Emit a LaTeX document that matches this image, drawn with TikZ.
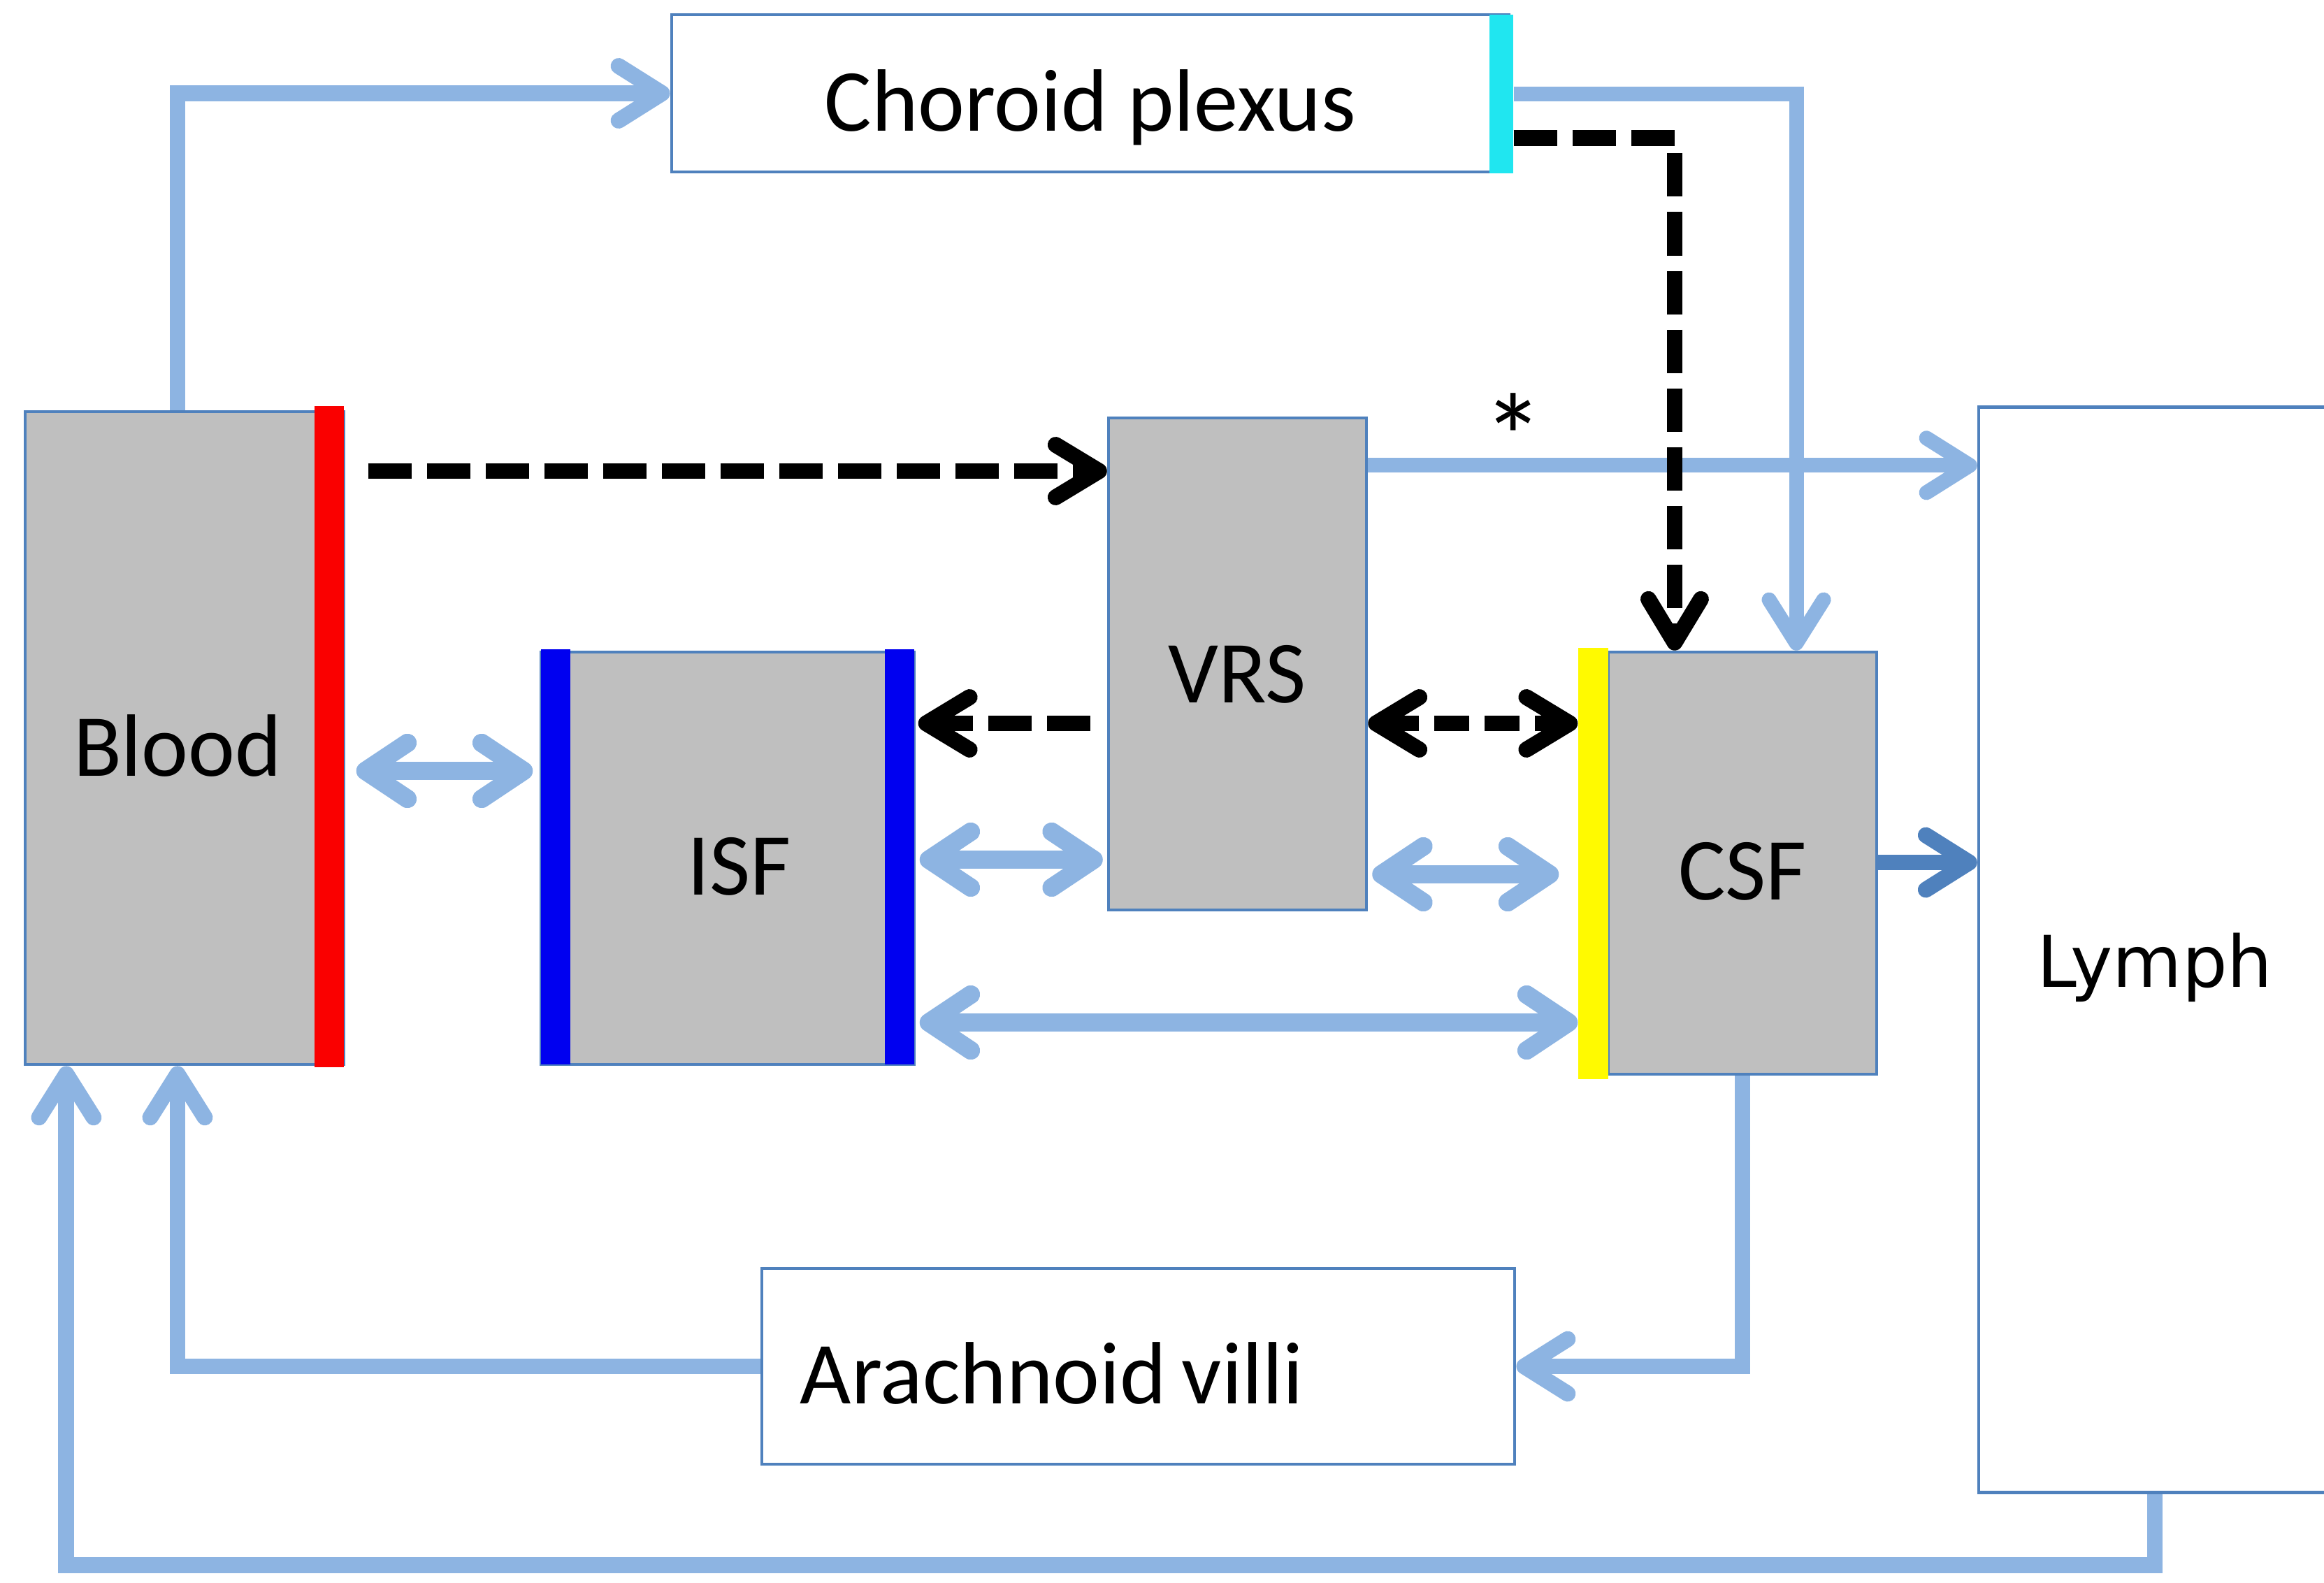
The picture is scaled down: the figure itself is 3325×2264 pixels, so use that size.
\documentclass[tikz,border=0pt]{standalone}
\usepackage{fontspec}
\setmainfont{Carlito}
\newfontfamily\lymphfont{DejaVu Sans}
\usetikzlibrary{arrows.meta}
\definecolor{lblue}{RGB}{141,180,226}
\definecolor{dblue}{RGB}{79,129,189}
\definecolor{bordc}{RGB}{79,129,189}
\definecolor{boxgray}{RGB}{191,191,191}
\definecolor{cpcyan}{RGB}{32,230,240}
\definecolor{isfblue}{RGB}{0,0,240}
\definecolor{barred}{RGB}{250,0,0}
\definecolor{baryellow}{RGB}{255,250,0}
\newcommand{\shiftdowntext}[2][0.12cm]{\raisebox{-#1}[\height][\depth]{#2}}
\begin{document}
\begin{tikzpicture}[x=0.01cm,y=-0.01cm,
  box/.style={draw=bordc,line width=1.2pt,inner sep=0pt,font=\fontsize{36}{40}\selectfont},
  graybox/.style={box,fill=boxgray},
  whitebox/.style={box,fill=white},
  bar/.style={inner sep=0pt,minimum width=0.42cm},
  flow/.style={draw=lblue,line width=6.5pt,-{Straight Barb[length=0.62cm,width=0.78cm,round]}},
  flowthin/.style={draw=lblue,line width=6pt,-{Straight Barb[length=0.62cm,width=0.78cm,round]}},
  flowdark/.style={draw=dblue,line width=6.5pt,-{Straight Barb[length=0.62cm,width=0.78cm,round]}},
  flowtwo/.style={draw=lblue,line width=7.5pt,{Straight Barb[length=0.6cm,width=0.8cm,round]}-{Straight Barb[length=0.6cm,width=0.8cm,round]}},
  dflow/.style={draw=black,line width=6.3pt,dash pattern=on 0.62cm off 0.22cm,-{Straight Barb[length=0.62cm,width=0.75cm,round,line width=6.5pt]}},
  dflowtwo/.style={draw=black,line width=6.3pt,dash pattern=on 0.5cm off 0.22cm,{Straight Barb[length=0.62cm,width=0.75cm,round,line width=6.5pt]}-{Straight Barb[length=0.62cm,width=0.75cm,round,line width=6.5pt]}}
]
\useasboundingbox (0,0) rectangle (3325,2264);
\fill[white] (0,0) rectangle (3325,2264);

% boxes
\node[whitebox,minimum width=11.98cm,minimum height=2.25cm] (CP) at (1560,133.5) {\shiftdowntext[0.2cm]{Choroid plexus}};
\node[fill=cpcyan,inner sep=0pt,minimum width=0.34cm,minimum height=2.27cm] (cpbar) at (2148,134.5) {};

\node[graybox,minimum width=4.56cm,minimum height=9.34cm] (Blood) at (264,1056) {\shiftdowntext[0.11cm]{\hspace*{-0.2cm}Blood}};
\node[bar,fill=barred,minimum height=9.46cm] (bloodbar) at (471,1054) {};

\node[graybox,minimum width=5.34cm,minimum height=5.90cm] (ISF) at (1041,1228) {\shiftdowntext[0.12cm]{\hspace*{0.34cm}ISF}};
\node[bar,fill=isfblue,minimum height=5.94cm] (isfl) at (795,1226) {};
\node[bar,fill=isfblue,minimum height=5.94cm] (isfr) at (1287,1226) {};

\node[graybox,minimum width=3.69cm,minimum height=7.04cm] (VRS) at (1770.5,950) {\shiftdowntext[0.15cm]{VRS}};

\node[graybox,minimum width=3.84cm,minimum height=6.04cm] (CSF) at (2493,1235) {\shiftdowntext[0.12cm]{CSF}};
\node[bar,fill=baryellow,minimum width=0.43cm,minimum height=6.17cm] (csfbar) at (2279.5,1235.5) {};

\node[whitebox,minimum width=5.04cm,minimum height=15.52cm,font=\lymphfont\fontsize{29}{34}\selectfont] (Lymph) at (3083,1359) {\shiftdowntext[0.25cm]{Lymph}};

\node[whitebox,minimum width=10.77cm,minimum height=2.80cm,text width=9.67cm,align=left,inner xsep=0.55cm] (AV) at (1628.5,1955) {\shiftdowntext[0.1cm]{Arachnoid\hspace{0.22cm}villi}};

% light blue flows
\draw[flow] ([xshift=-0.1cm]Blood.north) |- (CP.west);
\draw[flowthin] (cpbar.east) -| ([xshift=0.77cm]CSF.north);
\draw[flowthin] ([yshift=2.84cm]VRS.east) -- ([yshift=2.84cm]VRS.east -| Lymph.west);
\draw[flowtwo] ([xshift=0.17cm]bloodbar.east |- 0,1103) -- ([xshift=-0.11cm]isfl.west |- 0,1103);
\draw[flowtwo] ([xshift=0.07cm]isfr.east |- 0,1230) -- ([xshift=-0.06cm]VRS.west |- 0,1230);
\draw[flowtwo] ([xshift=0.06cm]VRS.east |- 0,1251) -- ([xshift=-0.27cm]csfbar.west |- 0,1251);
\draw[flowtwo] ([xshift=0.07cm]isfr.east |- 0,1463) -- (csfbar.west |- 0,1463);
\draw[flowdark] (CSF.east |- 0,1234) -- (Lymph.west |- 0,1234);
\draw[flow] (CSF.south) |- (AV.east);
\draw[flow] (AV.west) -| ([xshift=-0.1cm]Blood.south);
\draw[flow] (Lymph.south) -- ++(0,102) -| ([xshift=-1.69cm]Blood.south);

% black dashed flows
\draw[dflow] ([yshift=-0.63cm]cpbar.east) -| ([xshift=-0.97cm]CSF.north);
\draw[dflow] ([xshift=0.34cm]bloodbar.east |- 0,674) -- (VRS.west |- 0,674);
\draw[dflow] ([xshift=-0.24cm]VRS.west |- 0,1035) -- ([xshift=0.05cm]isfr.east |- 0,1035);
\draw[dflowtwo] (VRS.east |- 0,1035) -- (csfbar.west |- 0,1035);

% asterisk
\node[font=\fontsize{50}{52}\selectfont,inner sep=0pt] (ast) at (2165,625) {*};
\end{tikzpicture}
\end{document}
